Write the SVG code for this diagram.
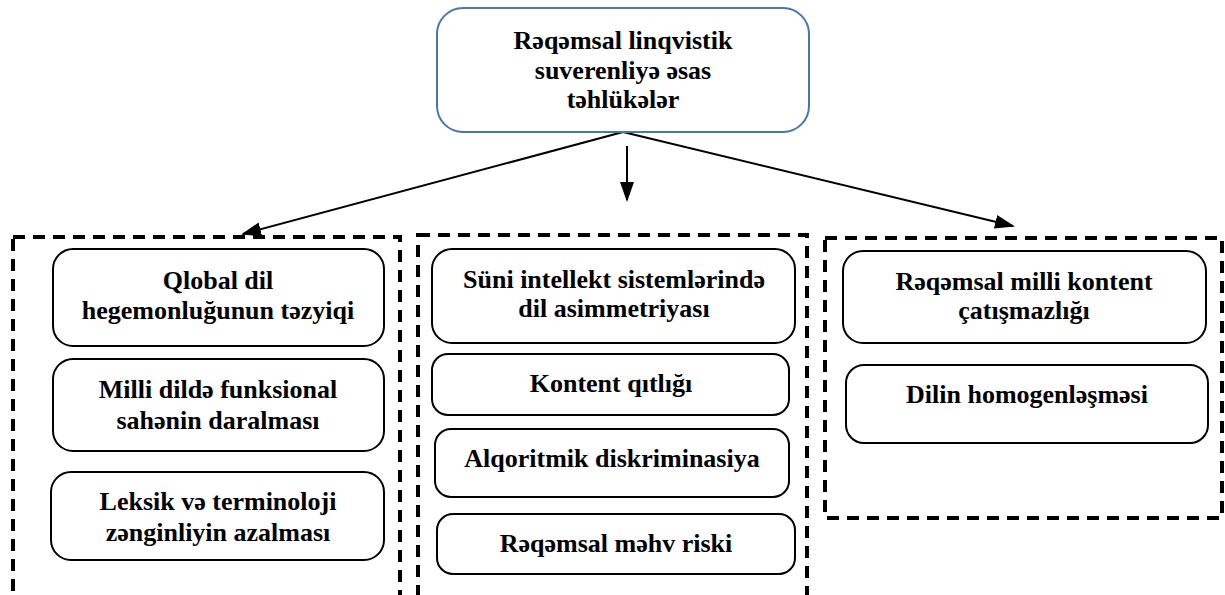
<svg xmlns="http://www.w3.org/2000/svg" width="1225" height="595" viewBox="0 0 1225 595">
<style>
.box{fill:#fff;stroke:#000;stroke-width:2}
.grp{fill:none;stroke:#000;stroke-width:4;stroke-dasharray:12 8}
.edge{stroke:#000;stroke-width:2;fill:none}
</style>
<defs>
<marker id="ah" viewBox="0 0 20 20" refX="18" refY="10" markerWidth="20" markerHeight="20" markerUnits="userSpaceOnUse" orient="auto">
<path d="M0,3 L20,10 L0,17 z" fill="#000"/>
</marker>
</defs>
<rect width="1225" height="595" fill="#fff"/>
<g id="groups">
<rect class="grp" x="13" y="237" width="387" height="360"/>
<rect class="grp" x="418" y="235" width="389" height="362"/>
<rect class="grp" x="825" y="238" width="397" height="280"/>
</g>
<g id="connectors">
<line class="edge" x1="623" y1="132" x2="243" y2="234" marker-end="url(#ah)"/>
<line class="edge" x1="623" y1="132" x2="1013" y2="226" marker-end="url(#ah)"/>
<line class="edge" x1="627" y1="146" x2="627" y2="200" marker-end="url(#ah)"/>
</g>
<g font-family="'Liberation Serif', 'Times New Roman', serif" font-weight="bold" font-size="26" text-anchor="middle" fill="#000">
<g id="root">
<rect x="437" y="8" width="372" height="124" rx="26" fill="#fff" stroke="#4a76a8" stroke-width="2"/>
<text x="623" y="49">Rəqəmsal linqvistik</text>
<text x="623" y="79">suverenliyə əsas</text>
<text x="623" y="108">təhlükələr</text>
</g>
<g id="n1">
<rect class="box" x="53" y="249" width="331" height="97" rx="20"/>
<text x="218" y="289">Qlobal dil</text>
<text x="218" y="319">hegemonluğunun təzyiqi</text>
</g>
<g id="n2">
<rect class="box" x="53" y="359" width="331" height="92" rx="20"/>
<text x="218" y="398">Milli dildə funksional</text>
<text x="218" y="429">sahənin daralması</text>
</g>
<g id="n3">
<rect class="box" x="51" y="472" width="333" height="88" rx="20"/>
<text x="218" y="510">Leksik və terminoloji</text>
<text x="218" y="541">zənginliyin azalması</text>
</g>
<g id="n4">
<rect class="box" x="432" y="249" width="363" height="94" rx="20"/>
<text x="614" y="288">Süni intellekt sistemlərində</text>
<text x="614" y="317">dil asimmetriyası</text>
</g>
<g id="n5">
<rect class="box" x="432" y="354" width="357" height="61" rx="16"/>
<text x="611" y="392">Kontent qıtlığı</text>
</g>
<g id="n6">
<rect class="box" x="435" y="429" width="354" height="68" rx="16"/>
<text x="612" y="467">Alqoritmik diskriminasiya</text>
</g>
<g id="n7">
<rect class="box" x="437" y="514" width="358" height="60" rx="16"/>
<text x="616" y="552">Rəqəmsal məhv riski</text>
</g>
<g id="n8">
<rect class="box" x="843" y="251" width="363" height="92" rx="20"/>
<text x="1024" y="290">Rəqəmsal milli kontent</text>
<text x="1024" y="319">çatışmazlığı</text>
</g>
<g id="n9">
<rect class="box" x="846" y="365" width="362" height="78" rx="18"/>
<text x="1027" y="403">Dilin homogenləşməsi</text>
</g>
</g>
</svg>
